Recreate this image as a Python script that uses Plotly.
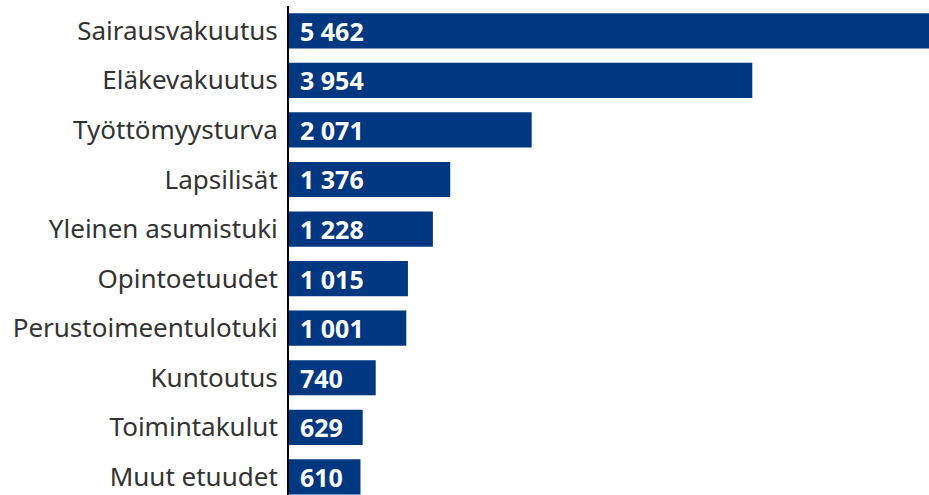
import plotly.graph_objects as go

categories = ["Sairausvakuutus", "Eläkevakuutus", "Työttömyysturva", "Lapsilisät",
              "Yleinen asumistuki", "Opintoetuudet", "Perustoimeentulotuki",
              "Kuntoutus", "Toimintakulut", "Muut etuudet"]
values = [5462, 3954, 2071, 1376, 1228, 1015, 1001, 740, 629, 610]
labels = [f"{v:,}".replace(",", " ") for v in values]

BAR = "#003781"
FONT = "Noto Sans, Open Sans, sans-serif"

fig = go.Figure(go.Bar(
    y=categories, x=values, orientation="h",
    marker=dict(color=BAR, line=dict(width=0)),
    hoverinfo="skip",
))

for c, lab in zip(categories, labels):
    fig.add_annotation(x=0, y=c, text=f"<b>{lab}</b>", showarrow=False,
                       xanchor="left", xshift=9, yshift=0,
                       font=dict(family=FONT, size=25, color="white"))

n = len(categories)
fig.update_layout(
    width=929, height=495,
    margin=dict(l=289, r=0, t=6, b=0, autoexpand=False),
    paper_bgcolor="white", plot_bgcolor="white",
    bargap=0.29,
    showlegend=False,
    font=dict(family=FONT, size=26, color="#333333"),
    xaxis=dict(range=[0, 5462], visible=False, showgrid=False, zeroline=False,
               automargin=False),
    yaxis=dict(
        categoryorder="array", categoryarray=categories,
        range=[n - 1 + 0.5 - 0.134, -0.5],
        showline=True, linecolor="black", linewidth=2,
        ticks="", showgrid=False, zeroline=False,
        ticklabelstandoff=4, automargin=False,
        tickfont=dict(family=FONT, size=26, color="#333333"),
    ),
)

fig.write_html("out.html", config={"displayModeBar": False},
               post_script="document.body.style.margin='0';document.body.style.overflow='hidden';")
